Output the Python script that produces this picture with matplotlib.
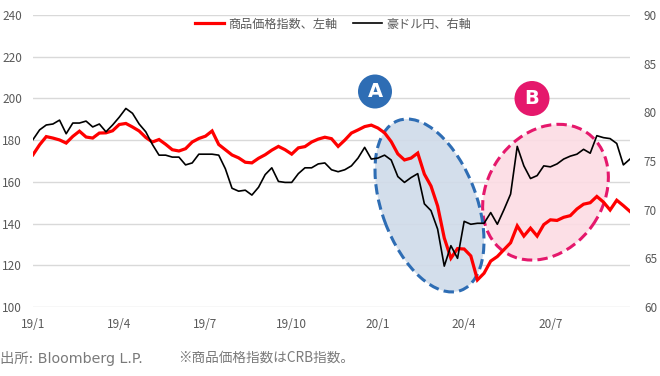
import matplotlib
matplotlib.use("Agg")
import matplotlib.pyplot as plt
from matplotlib.patches import Ellipse, Circle

plt.rcParams['font.family'] = ['Noto Sans CJK JP', 'DejaVu Sans']

# ---- data (weekly) ----
tick_labels = ["19/1", "19/4", "19/7", "19/10", "20/1", "20/4", "20/7"]

commodity = [173.0, 177.8, 181.7, 181.0, 180.1, 178.6, 181.8, 184.3, 181.5, 181.0,
             183.4, 183.5, 184.5, 187.5, 188.0, 186.3, 184.4, 181.3, 179.1, 180.3,
             178.0, 175.4, 174.8, 175.9, 179.1, 180.8, 181.9, 184.4, 177.9, 175.4,
             172.9, 171.5, 169.4, 169.1, 171.3, 173.0, 175.2, 177.0, 175.4, 173.3,
             176.3, 176.9, 179.1, 180.5, 181.4, 180.7, 177.0, 180.0, 183.4, 184.9,
             186.5, 187.2, 185.8, 183.5, 179.3, 173.4, 170.5, 171.4, 173.8, 163.7,
             158.0, 148.4, 133.1, 123.4, 128.0, 127.8, 124.5, 113.0, 116.2, 122.0,
             124.2, 127.5, 130.8, 138.9, 134.0, 137.8, 134.0, 139.5, 141.8, 141.5,
             143.0, 143.8, 147.0, 149.3, 150.0, 153.0, 150.3, 146.5, 151.2, 148.6, 145.8]

audjpy = [77.2, 78.2, 78.7, 78.8, 79.2, 77.8, 78.9, 78.9, 79.1, 78.5,
          78.8, 78.0, 78.7, 79.5, 80.4, 79.9, 78.8, 78.0, 76.7, 75.6,
          75.6, 75.4, 75.4, 74.6, 74.8, 75.7, 75.7, 75.7, 75.6, 74.2,
          72.2, 71.9, 72.0, 71.5, 72.3, 73.6, 74.3, 72.9, 72.8, 72.8,
          73.7, 74.3, 74.3, 74.7, 74.8, 74.1, 73.9, 74.1, 74.5, 75.3,
          76.4, 75.2, 75.3, 75.6, 75.1, 73.4, 72.8, 73.3, 73.7, 70.6,
          69.9, 68.0, 64.2, 66.3, 65.0, 68.8, 68.5, 68.6, 68.6, 69.7,
          68.5, 70.0, 71.6, 76.5, 74.5, 73.2, 73.5, 74.5, 74.4, 74.7,
          75.2, 75.5, 75.7, 76.2, 75.8, 77.6, 77.4, 77.3, 76.8, 74.6, 75.2]

label_red = "商品価格指数、左軸"
label_black = "豪ドル円、右軸"
source_note = "出所: Bloomberg L.P."
index_note = "※商品価格指数はCRB指数。"

# ---- figure ----
W, H = 660, 376
fig = plt.figure(figsize=(W / 100, H / 100), dpi=100)
ax = fig.add_axes([33 / W, 1 - 307 / H, 597 / W, 292 / H])
ax2 = ax.twinx()

x = list(range(len(commodity)))
tick_col = "#595959"

l1, = ax.plot(x, commodity, color="#FF0000", lw=2.3, zorder=3,
              solid_joinstyle="miter", label=label_red)
l2, = ax2.plot(x, audjpy, color="#000000", lw=1.2, zorder=3, label=label_black)

ax.set_xlim(0, len(commodity) - 1)
ax.set_ylim(100, 240)
ax.set_yticks(range(100, 241, 20))
ax2.set_ylim(60, 90)
ax2.set_yticks(range(60, 91, 5))
ax.set_xticks([0, 13, 26, 39, 52, 65, 78])
ax.set_xticklabels(tick_labels)

ax.grid(axis="y", color="#D9D9D9", lw=1.0, zorder=0)
ax.set_axisbelow(True)
for a in (ax, ax2):
    for s in a.spines.values():
        s.set_visible(False)
    a.tick_params(length=0, labelsize=8.5, labelcolor=tick_col)
ax.tick_params(axis="y", pad=8)
ax.tick_params(axis="x", pad=8)
ax2.tick_params(axis="y", pad=10)

# ---- highlight ellipses (figure pixel coords via inches) ----
tr = fig.dpi_scale_trans
eB = Ellipse((5.455, (H - 192.2) / 100), 1.45, 1.15, angle=54.8,
             transform=tr, facecolor="#FCDCE4", alpha=0.9, edgecolor="none",
             zorder=1, clip_on=False)
eB_edge = Ellipse((5.455, (H - 192.2) / 100), 1.45, 1.15, angle=54.8,
                  transform=tr, facecolor="none", edgecolor="#E5186C",
                  lw=2.2, linestyle=(0, (3.4, 1.7)), zorder=1.2, clip_on=False)
eA = Ellipse((4.295, (H - 205.5) / 100), 1.81, 0.95, angle=-69.7,
             transform=tr, facecolor="#CFDBE9", alpha=0.9, edgecolor="none",
             zorder=1.4, clip_on=False)
eA_edge = Ellipse((4.295, (H - 205.5) / 100), 1.81, 0.95, angle=-69.7,
                  transform=tr, facecolor="none", edgecolor="#2E6DB4",
                  lw=2.2, linestyle=(0, (3.4, 1.7)), zorder=1.6, clip_on=False)
for p in (eB, eB_edge, eA, eA_edge):
    ax.add_patch(p)

# ---- A / B badges ----
for cx, cy, r, col, txt in [(375, 91.5, 17, "#2E6DB4", "A"),
                            (532, 98.5, 17.5, "#E5186C", "B")]:
    c = Circle((cx / 100, (H - cy) / 100), r / 100, transform=tr,
               facecolor=col, edgecolor="none", zorder=5, clip_on=False)
    ax2.add_patch(c)
    fig.text(cx / W, 1 - cy / H, txt, color="white", fontsize=14,
             fontweight="bold", ha="center", va="center",
             family=["DejaVu Sans"], zorder=6)

# ---- legend ----
leg = ax2.legend(handles=[l1, l2], loc="center",
                 bbox_to_anchor=(333 / W, 1 - 24 / H),
                 bbox_transform=fig.transFigure, ncol=2, frameon=False,
                 fontsize=8.7, handlelength=2.4, columnspacing=1.3,
                 handletextpad=0.35, borderaxespad=0)
for t in leg.get_texts():
    t.set_color(tick_col)

# ---- footnote ----
fig.text(0.0, 1 - 358 / H, source_note, fontsize=10.3, color="#7A7A7A",
         ha="left", va="center", family=["DejaVu Sans", "Noto Sans CJK JP"])
fig.text(178 / W, 1 - 358 / H, index_note, fontsize=9.8, color="#7A7A7A",
         ha="left", va="center")

fig.savefig("out.png", dpi=100)
